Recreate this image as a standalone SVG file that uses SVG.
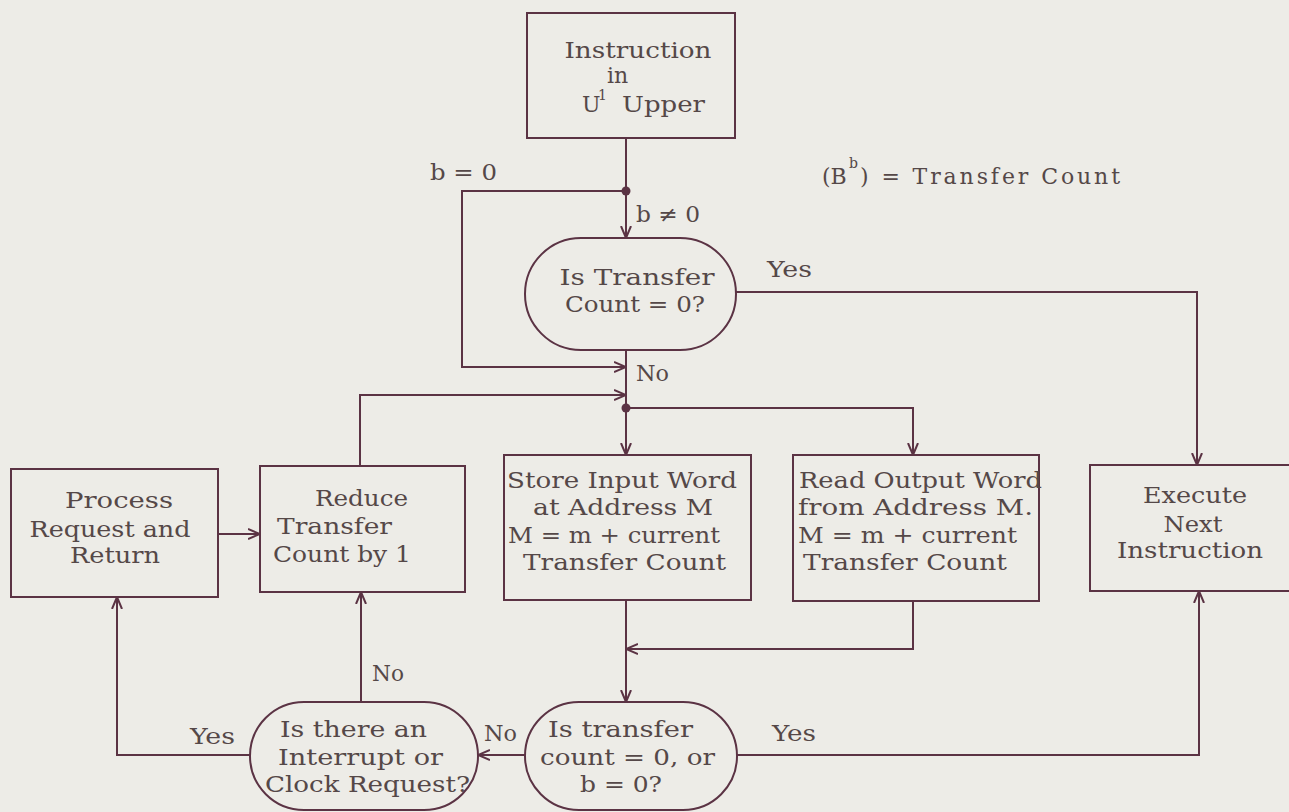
<svg xmlns="http://www.w3.org/2000/svg" width="1289" height="812" viewBox="0 0 1289 812">
<defs>
<marker id="arr" viewBox="0 0 12 12" refX="12" refY="6" markerWidth="12" markerHeight="12" markerUnits="userSpaceOnUse" orient="auto">
<path d="M0,1 L12,6 L0,11" fill="none" stroke="#5b3344" stroke-width="2"/>
</marker>
<style>
.box{fill:none;stroke:#5b3344;stroke-width:2}
.ln{fill:none;stroke:#5b3344;stroke-width:2;marker-end:url(#arr)}
text{font-family:"DejaVu Serif","Liberation Serif",serif;font-size:22px;fill:#554848}
.c{text-anchor:middle}
.sm{font-size:14px}
</style>
</defs>
<rect width="1289" height="812" fill="#edece7"/>

<g id="connectors">
<path class="ln" d="M626,138 V238"/>
<path class="ln" d="M626,191 H462 V367 H626"/>
<path class="ln" d="M626,350 V455"/>
<path class="ln" d="M626,408 H913 V455"/>
<path class="ln" d="M360,466 V395 H626"/>
<path class="ln" d="M736,292 H1197 V465"/>
<path class="ln" d="M626,600 V702"/>
<path class="ln" d="M913,601 V649 H626"/>
<path class="ln" d="M737,755 H1199 V591"/>
<path class="ln" d="M525,755 H478"/>
<path class="ln" d="M361,702 V592"/>
<path class="ln" d="M250,755 H117 V597"/>
<path class="ln" d="M218,534 H260"/>
<circle cx="626" cy="191" r="4.5" fill="#5b3344"/>
<circle cx="626" cy="408" r="4.5" fill="#5b3344"/>
<text x="430" y="180" textLength="67" lengthAdjust="spacingAndGlyphs">b = 0</text>
<text x="636" y="222" textLength="64" lengthAdjust="spacingAndGlyphs">b ≠ 0</text>
<text x="767" y="277" textLength="45" lengthAdjust="spacingAndGlyphs">Yes</text>
<text x="636" y="381" textLength="33" lengthAdjust="spacingAndGlyphs">No</text>
<text x="772" y="741" textLength="44" lengthAdjust="spacingAndGlyphs">Yes</text>
<text x="484" y="741" textLength="33" lengthAdjust="spacingAndGlyphs">No</text>
<text x="372" y="681" textLength="32" lengthAdjust="spacingAndGlyphs">No</text>
<text x="190" y="744" textLength="45" lengthAdjust="spacingAndGlyphs">Yes</text>
</g>

<g id="legend">
<text x="822" y="184">(B</text>
<text x="849" y="168" class="sm">b</text>
<text x="860" y="184" textLength="260" lengthAdjust="spacing">) = Transfer Count</text>
</g>

<g id="n-instruction">
<rect class="box" x="527" y="13" width="208" height="125"/>
<text x="638" y="58" class="c" textLength="147" lengthAdjust="spacingAndGlyphs">Instruction</text>
<text x="607" y="83">in</text>
<text x="582" y="112">U</text>
<text x="598" y="100" class="sm">1</text>
<text x="622" y="112" textLength="83" lengthAdjust="spacingAndGlyphs">Upper</text>
</g>

<g id="n-decision1">
<rect class="box" x="525" y="238" width="211" height="112" rx="56" ry="56"/>
<text x="637" y="285" class="c" textLength="155" lengthAdjust="spacingAndGlyphs">Is Transfer</text>
<text x="635" y="312" class="c" textLength="140" lengthAdjust="spacingAndGlyphs">Count = 0?</text>
</g>

<g id="n-process">
<rect class="box" x="11" y="469" width="207" height="128"/>
<text x="119" y="508" class="c" textLength="108" lengthAdjust="spacingAndGlyphs">Process</text>
<text x="110" y="537" class="c" textLength="161" lengthAdjust="spacingAndGlyphs">Request and</text>
<text x="115" y="563" class="c" textLength="90" lengthAdjust="spacingAndGlyphs">Return</text>
</g>

<g id="n-reduce">
<rect class="box" x="260" y="466" width="205" height="126"/>
<text x="315" y="506" textLength="93" lengthAdjust="spacingAndGlyphs">Reduce</text>
<text x="277" y="534" textLength="115" lengthAdjust="spacingAndGlyphs">Transfer</text>
<text x="273" y="562" textLength="138" lengthAdjust="spacingAndGlyphs">Count by 1</text>
</g>

<g id="n-store">
<rect class="box" x="504" y="455" width="247" height="145"/>
<text x="507" y="488" textLength="230" lengthAdjust="spacingAndGlyphs">Store Input Word</text>
<text x="533" y="515" textLength="180" lengthAdjust="spacingAndGlyphs">at Address M</text>
<text x="508" y="543" textLength="212" lengthAdjust="spacingAndGlyphs">M = m + current</text>
<text x="523" y="570" textLength="203" lengthAdjust="spacingAndGlyphs">Transfer Count</text>
</g>

<g id="n-read">
<rect class="box" x="793" y="455" width="246" height="146"/>
<text x="799" y="488" textLength="243" lengthAdjust="spacingAndGlyphs">Read Output Word</text>
<text x="798" y="515" textLength="235" lengthAdjust="spacingAndGlyphs">from Address M.</text>
<text x="798" y="543" textLength="219" lengthAdjust="spacingAndGlyphs">M = m +  current</text>
<text x="803" y="570" textLength="204" lengthAdjust="spacingAndGlyphs">Transfer Count</text>
</g>

<g id="n-execute">
<rect class="box" x="1090" y="465" width="220" height="126"/>
<text x="1195" y="503" class="c" textLength="104" lengthAdjust="spacingAndGlyphs">Execute</text>
<text x="1193" y="532" class="c" textLength="59" lengthAdjust="spacingAndGlyphs">Next</text>
<text x="1190" y="558" class="c" textLength="146" lengthAdjust="spacingAndGlyphs">Instruction</text>
</g>

<g id="n-interrupt">
<rect class="box" x="250" y="702" width="228" height="108" rx="54" ry="54"/>
<text x="280" y="737" textLength="147" lengthAdjust="spacingAndGlyphs">Is there an</text>
<text x="278" y="765" textLength="165" lengthAdjust="spacingAndGlyphs">Interrupt or</text>
<text x="265" y="792" textLength="205" lengthAdjust="spacingAndGlyphs">Clock Request?</text>
</g>

<g id="n-decision2">
<rect class="box" x="525" y="702" width="212" height="108" rx="54" ry="54"/>
<text x="548" y="737" textLength="145" lengthAdjust="spacingAndGlyphs">Is transfer</text>
<text x="540" y="765" textLength="175" lengthAdjust="spacingAndGlyphs">count = 0,  or</text>
<text x="580" y="792" textLength="82" lengthAdjust="spacingAndGlyphs">b = 0?</text>
</g>
</svg>
